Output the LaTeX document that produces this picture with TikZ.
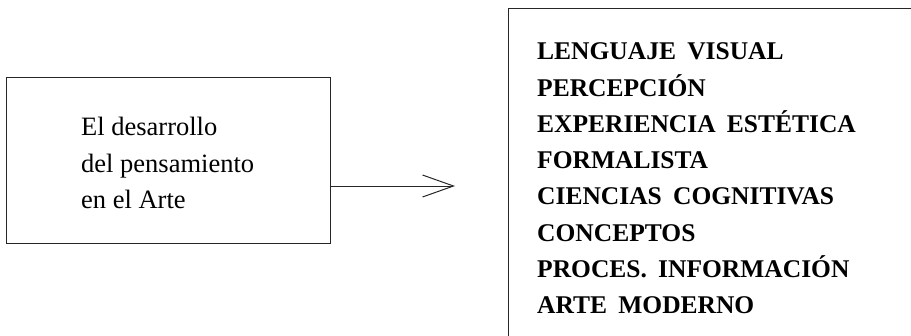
\documentclass[tikz,border=0pt]{standalone}
\usepackage{fontspec}
\setmainfont{Liberation Serif}
\usetikzlibrary{arrows.meta}

% slightly wider gaps between words in the list
\newcommand{\widewordgaps}{\spaceskip=0.44em plus 0.1em\relax}

\tikzset{
  frame/.style={draw=black!85, line width=1pt},
  srcbox/.style={frame, minimum width=324pt, minimum height=166pt,
    inner sep=0pt},
  srctext/.style={inner sep=0pt, align=left, anchor=west,
    font=\fontsize{26.5}{36.5}\selectfont},
  listtext/.style={inner sep=0pt, align=left, anchor=west,
    text width=360pt, execute at begin node=\widewordgaps,
    font=\fontsize{25.5}{36.3}\selectfont\bfseries},
  flow/.style={draw=black!85, line width=1pt,
    -{Straight Barb[length=31pt, width=22pt, line width=1pt]}}
}

\begin{document}
\begin{tikzpicture}[x=1pt, y=-1pt]
  \useasboundingbox (0,0) rectangle (911,335);

  % left box with the topic
  \node[srcbox] (src) at (168,160) {};
  \node[srctext] (srctxt) at (81,163)
    {El desarrollo\\del pensamiento\\en el Arte};

  % list of themes, in a frame open to the right and below
  \node[listtext] (list) at (537,178.5)
    {LENGUAJE VISUAL\\PERCEPCIÓN\\EXPERIENCIA ESTÉTICA\\FORMALISTA\\%
     CIENCIAS COGNITIVAS\\CONCEPTOS\\PROCES. INFORMACIÓN\\ARTE MODERNO};
  \coordinate (frameTL) at (508,8);
  \coordinate (frameBL) at (508,340);
  \coordinate (frameTR) at (916,8);
  \draw[frame] (frameBL) -- (frameTL) -- (frameTR);

  % connector
  \coordinate (tip) at (455,186);
  \draw[flow] (src.east |- tip) -- (tip);
\end{tikzpicture}
\end{document}
